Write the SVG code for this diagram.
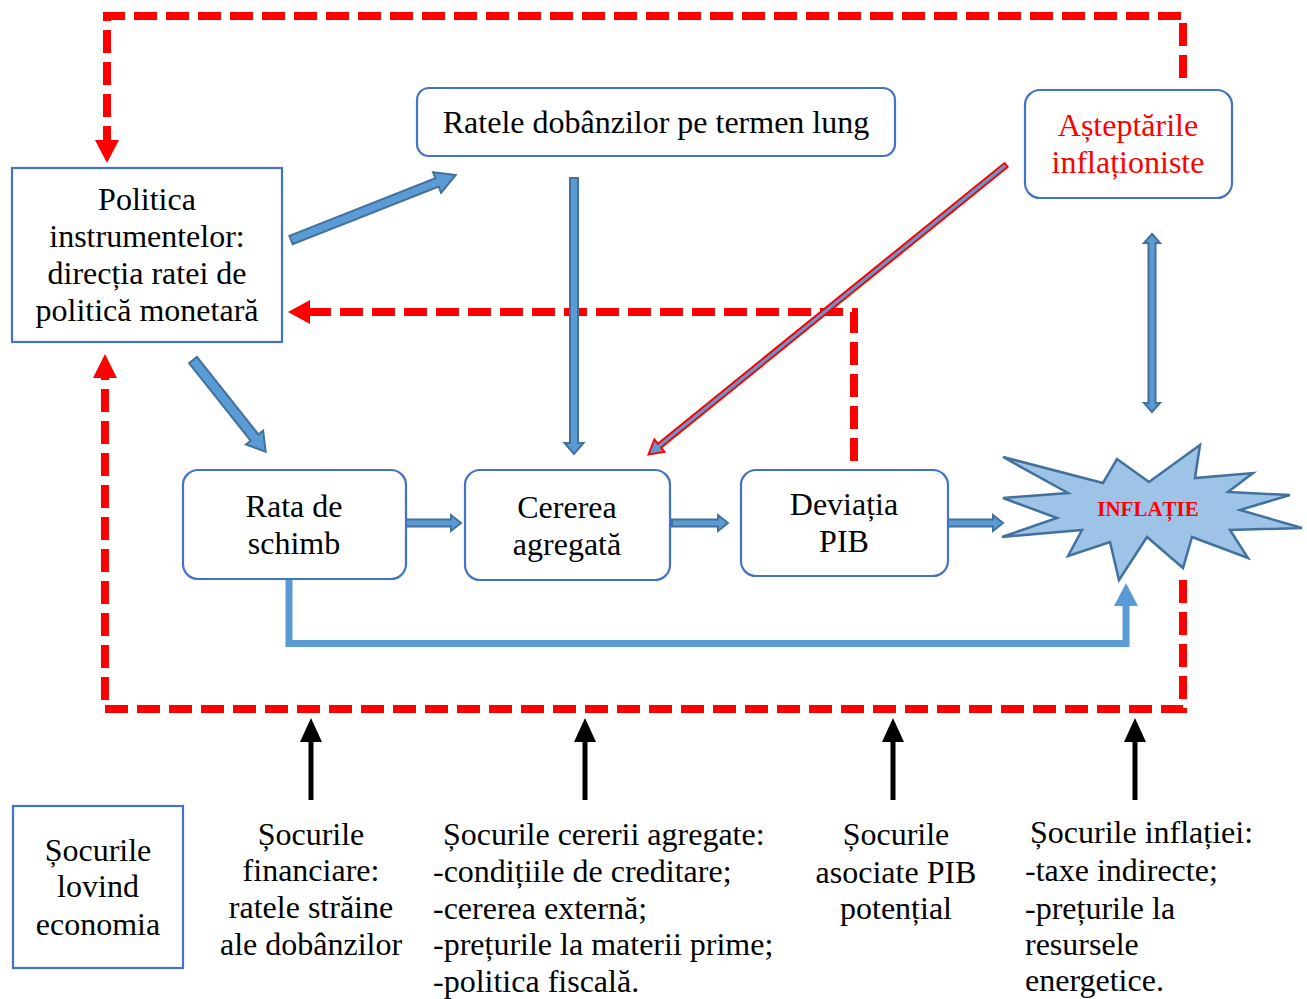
<svg xmlns="http://www.w3.org/2000/svg" width="1307" height="999" viewBox="0 0 1307 999">
  <style>
    .box { fill: #ffffff; stroke: #4472C4; stroke-width: 2.2; }
    .txt { font-family: "Liberation Serif", "Times New Roman", serif; font-size: 32px; fill: #000000; }
    .mid { text-anchor: middle; }
    .red { fill: #FF0000; }
    .blk { fill: #5B9BD5; stroke: #41719C; stroke-width: 2; stroke-linejoin: miter; }
    .redarrow { fill: #5B9BD5; stroke: #FF0000; stroke-width: 2; }
    .dash { fill: none; stroke: #FF0000; stroke-width: 8; stroke-dasharray: 23 9; }
    .loop { fill: none; stroke: #5B9BD5; stroke-width: 7; }
  </style>

  <!-- connectors -->
  <g id="connectors">
    <!-- policy feedback loop (red dashed) -->
    <path class="dash" d="M1183,78 V16 H107 V140"/>
    <polygon class="red" points="95,140 119,140 107,163"/>
    <path class="dash" d="M1183,580 V709 H105 V378"/>
    <polygon class="red" points="93,378 117,378 105,354"/>
    <path class="dash" d="M854,461 V312 H310"/>
    <polygon class="red" points="310,300 310,324 288,312"/>

    <!-- block arrows -->
    <polygon class="blk" transform="translate(291,240) rotate(-21.5)" points="0,-4.5 157,-4.5 157,-11 177,0 157,11 157,4.5 0,4.5"/>
    <polygon class="blk" transform="translate(193,360) rotate(51.6)" points="0,-5 99,-5 99,-11 117,0 99,11 99,5 0,5"/>
    <polygon class="blk" transform="translate(574,178) rotate(90)" points="0,-4 265,-4 265,-9.5 276,0 265,9.5 265,4 0,4"/>
    <polygon class="blk" transform="translate(405,523)" points="0,-3.5 46,-3.5 46,-8 56,0 46,8 46,3.5 0,3.5"/>
    <polygon class="blk" transform="translate(672,523)" points="0,-3.5 46,-3.5 46,-8 56,0 46,8 46,3.5 0,3.5"/>
    <polygon class="blk" transform="translate(948,523)" points="0,-3.5 45,-3.5 45,-8 55,0 45,8 45,3.5 0,3.5"/>
    <!-- two-way link between expectations and inflation -->
    <polygon class="blk" transform="translate(1152,234)" points="0,0 8,9 3.5,9 3.5,169 8,169 0,178 -8,169 -3.5,169 -3.5,9 -8,9"/>
    <!-- expectations into aggregate demand -->
    <polygon class="redarrow" transform="translate(1006,165) rotate(141)" points="0,-2.5 446,-2.5 446,-8 460,0 446,8 446,2.5 0,2.5"/>

    <!-- exchange rate direct channel to inflation -->
    <path class="loop" d="M289,579 V643.5 H1126 V604"/>
    <polygon fill="#5B9BD5" points="1114,606 1138,606 1126,583"/>

    <!-- shock arrows -->
    <g fill="#000000">
      <polygon points="308.5,800 313.5,800 313.5,742 322,742 311,718 300,742 308.5,742"/>
      <polygon points="582.5,800 587.5,800 587.5,742 596,742 585,718 574,742 582.5,742"/>
      <polygon points="890.5,800 895.5,800 895.5,742 904,742 893,718 882,742 890.5,742"/>
      <polygon points="1132.5,800 1137.5,800 1137.5,742 1146,742 1135,718 1124,742 1132.5,742"/>
    </g>
  </g>

  <!-- nodes -->
  <g id="policy">
    <rect class="box" x="12" y="168" width="270" height="174"/>
    <text class="txt mid" x="147" y="210">Politica</text>
    <text class="txt mid" x="147" y="247">instrumentelor:</text>
    <text class="txt mid" x="147" y="284">direcția ratei de</text>
    <text class="txt mid" x="147" y="321">politică monetară</text>
  </g>

  <g id="long-rates">
    <rect class="box" x="417" y="88" width="478" height="68" rx="12"/>
    <text class="txt mid" x="656" y="133">Ratele dobânzilor pe termen lung</text>
  </g>

  <g id="expectations">
    <rect class="box" x="1025" y="90" width="207" height="108" rx="15"/>
    <text class="txt mid red" x="1128" y="136">Așteptările</text>
    <text class="txt mid red" x="1128" y="173">inflaționiste</text>
  </g>

  <g id="exchange-rate">
    <rect class="box" x="183" y="470" width="223" height="109" rx="15"/>
    <text class="txt mid" x="294" y="517">Rata de</text>
    <text class="txt mid" x="294" y="554">schimb</text>
  </g>

  <g id="aggregate-demand">
    <rect class="box" x="465" y="470" width="205" height="110" rx="15"/>
    <text class="txt mid" x="567" y="518">Cererea</text>
    <text class="txt mid" x="567" y="555">agregată</text>
  </g>

  <g id="output-gap">
    <rect class="box" x="741" y="470" width="207" height="106" rx="15"/>
    <text class="txt mid" x="844" y="515">Deviația</text>
    <text class="txt mid" x="844" y="552">PIB</text>
  </g>

  <g id="inflation">
    <polygon fill="#9DC3E6" stroke="#41719C" stroke-width="2.5" stroke-linejoin="miter"
      points="1003,457 1103,483 1117,459 1149,482 1200,445 1195,478 1253,473 1228,492 1290,495 1240,510 1302,528 1230,530 1248,558 1192,537 1183,568 1147,537 1119,580 1110,542 1068,556 1082,530 1002,537 1057,518 1003,498 1068,493"/>
    <text x="1148" y="516" text-anchor="middle" font-family="'Liberation Serif', 'Times New Roman', serif" font-size="21" font-weight="bold" fill="#FF0000">INFLAȚIE</text>
  </g>

  <g id="shocks">
    <rect class="box" x="13" y="806" width="170" height="162"/>
    <text class="txt mid" x="98" y="861">Șocurile</text>
    <text class="txt mid" x="98" y="897">lovind</text>
    <text class="txt mid" x="98" y="935">economia</text>
  </g>

  <g id="financial-shocks">
    <text class="txt mid" x="311" y="845">Șocurile</text>
    <text class="txt mid" x="311" y="881">financiare:</text>
    <text class="txt mid" x="311" y="918">ratele străine</text>
    <text class="txt mid" x="311" y="955">ale dobânzilor</text>
  </g>

  <g id="demand-shocks">
    <text class="txt" x="443" y="845">Șocurile cererii agregate:</text>
    <text class="txt" x="433" y="882">-condițiile de creditare;</text>
    <text class="txt" x="433" y="919">-cererea externă;</text>
    <text class="txt" x="433" y="955">-prețurile la materii prime;</text>
    <text class="txt" x="433" y="992">-politica fiscală.</text>
  </g>

  <g id="potential-shocks">
    <text class="txt mid" x="896" y="845">Șocurile</text>
    <text class="txt mid" x="896" y="883">asociate PIB</text>
    <text class="txt mid" x="896" y="919">potențial</text>
  </g>

  <g id="inflation-shocks">
    <text class="txt" x="1030" y="843">Șocurile inflației:</text>
    <text class="txt" x="1025" y="881">-taxe indirecte;</text>
    <text class="txt" x="1025" y="919">-prețurile la</text>
    <text class="txt" x="1025" y="955">resursele</text>
    <text class="txt" x="1025" y="991">energetice.</text>
  </g>
</svg>
